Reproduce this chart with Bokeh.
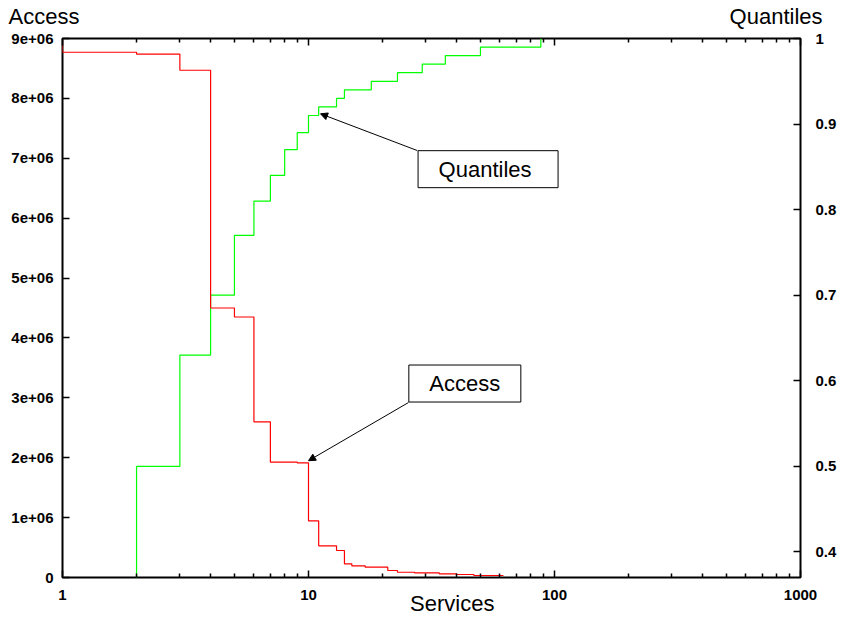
from bokeh.plotting import figure
from bokeh.layouts import column
from bokeh.models import (LogAxis, LinearAxis, Range1d, FixedTicker, Label,
                          Arrow, NormalHead)
from bokeh.embed import file_html
from bokeh.resources import INLINE

# ---------------- data ----------------
access_services = [1, 2, 3, 4, 5, 6, 7, 9, 10, 11, 13, 14, 15, 17, 21, 23,
                   27, 34, 40, 47, 62]
access_values = [9.0e6, 8.77e6, 8.74e6, 8.47e6, 4.50e6, 4.35e6, 2.60e6,
                 1.925e6, 1.915e6, 0.947e6, 0.529e6, 0.451e6, 0.229e6,
                 0.195e6, 0.172e6, 0.117e6, 0.088e6, 0.078e6, 0.062e6,
                 0.050e6, 0.033e6]

quantile_services = [1, 2, 3, 4, 5, 6, 7, 8, 9, 10, 11, 13, 14, 18, 23, 29,
                     36, 50, 88]
quantile_values = [0.30, 0.50, 0.63, 0.70, 0.77, 0.81, 0.84, 0.87, 0.89,
                   0.91, 0.92, 0.93, 0.94, 0.95, 0.96, 0.97, 0.98, 0.99, 1.00]

x_ticks = [1, 10, 100, 1000]
x_tick_labels = ["1", "10", "100", "1000"]
x_minor_ticks = [m * d for d in (1, 10, 100) for m in range(2, 10)]

access_ticks = [0.0, 1e6, 2e6, 3e6, 4e6, 5e6, 6e6, 7e6, 8e6, 9e6]
access_tick_labels = ["0", "1e+06", "2e+06", "3e+06", "4e+06", "5e+06",
                      "6e+06", "7e+06", "8e+06", "9e+06"]

quantile_ticks = [0.4, 0.5, 0.6, 0.7, 0.8, 0.9, 1.0]
quantile_tick_labels = ["0.4", "0.5", "0.6", "0.7", "0.8", "0.9", "1"]

x_title = "Services"
x_title_pos = 38.4          # where the x title is centred (data units)
y_title_left = "Access"
y_title_right = "Quantiles"

FONT = "Liberation Sans"
W = 844
HEAD_H = 30
MAIN_H = 621 - HEAD_H

# ---------------- header strip carrying the two y titles ----------------
head = figure(width=W, height=HEAD_H, x_range=Range1d(0, W),
              y_range=Range1d(0, HEAD_H), output_backend="svg",
              toolbar_location=None, x_axis_location=None,
              y_axis_location=None, min_border=0, min_border_left=0,
              min_border_right=0, min_border_top=0, min_border_bottom=0,
              frame_align=False)
head.grid.visible = False
head.outline_line_color = None
head.background_fill_color = "white"
head.border_fill_color = "white"
TITLE_MID = HEAD_H - 15.7      # vertical middle of the title text
head.add_layout(Label(x=8, y=TITLE_MID, text=y_title_left,
                      text_align="left", text_baseline="middle",
                      text_font=FONT, text_font_size="22px",
                      text_color="black"))
head.add_layout(Label(x=822, y=TITLE_MID, text=y_title_right,
                      text_align="right", text_baseline="middle",
                      text_font=FONT, text_font_size="22px",
                      text_color="black"))

# ---------------- main figure ----------------
p = figure(width=W, height=MAIN_H, x_axis_type="log",
           x_range=Range1d(1, 1000), y_range=Range1d(0, 9e6),
           output_backend="svg", toolbar_location=None,
           min_border_left=62, min_border_right=44,
           min_border_top=38 - HEAD_H, min_border_bottom=44,
           frame_align=False)
p.extra_y_ranges = {"q": Range1d(0.37, 1.0)}
p.grid.visible = False
p.outline_line_color = "black"
p.outline_line_width = 2
p.background_fill_color = "white"
p.border_fill_color = "white"


def style_axis(ax, standoff):
    ax.axis_line_color = None
    ax.major_tick_in = 7
    ax.major_tick_out = 0
    ax.minor_tick_in = 4
    ax.minor_tick_out = 0
    ax.major_tick_line_color = "black"
    ax.minor_tick_line_color = "black"
    ax.major_tick_line_width = 1.5
    ax.minor_tick_line_width = 1.5
    ax.major_label_standoff = standoff
    ax.major_label_text_font = FONT
    ax.major_label_text_font_size = "15px"
    ax.major_label_text_font_style = "bold"
    ax.major_label_text_color = "black"


# bottom x axis
xb = p.xaxis[0]
xb.ticker = FixedTicker(ticks=x_ticks, minor_ticks=x_minor_ticks)
xb.major_label_overrides = dict(zip(x_ticks, x_tick_labels))
style_axis(xb, 12)

# x title, placed under the tick labels
xlab = LogAxis(ticker=FixedTicker(ticks=[x_title_pos]))
xlab.major_label_overrides = {x_title_pos: x_title}
xlab.axis_line_color = None
xlab.major_tick_in = 0
xlab.major_tick_out = 0
xlab.minor_tick_in = 0
xlab.minor_tick_out = 0
xlab.major_label_standoff = -12
xlab.major_label_text_font = FONT
xlab.major_label_text_font_size = "22px"
xlab.major_label_text_color = "black"
p.add_layout(xlab, "below")

# mirrored ticks on the top border
xt = LogAxis(ticker=FixedTicker(ticks=x_ticks, minor_ticks=x_minor_ticks))
style_axis(xt, 0)
xt.major_label_overrides = {t: "" for t in x_ticks}
xt.major_label_text_color = None
p.add_layout(xt, "above")

# left y axis (Access)
yl = p.yaxis[0]
yl.ticker = FixedTicker(ticks=access_ticks)
yl.major_label_overrides = dict(zip(access_ticks, access_tick_labels))
style_axis(yl, 9)
yl.minor_tick_in = 0

# right y axis (Quantiles)
yr = LinearAxis(y_range_name="q", ticker=FixedTicker(ticks=quantile_ticks))
yr.major_label_overrides = dict(zip(quantile_ticks, quantile_tick_labels))
style_axis(yr, 15)
yr.minor_tick_in = 0
p.add_layout(yr, "right")

# ---------------- series ----------------
p.step(x=quantile_services, y=quantile_values, mode="after",
       y_range_name="q", line_color="#00ff00", line_width=1.2)
p.step(x=access_services, y=access_values, mode="before",
       line_color="#ff0000", line_width=1.2)

# ---------------- annotation boxes and arrows ----------------
p.add_layout(Arrow(end=NormalHead(size=7, fill_color="black",
                                  line_color="black"),
                   x_start=25.5, y_start=2.922e6, x_end=10.0, y_end=1.95e6,
                   line_color="black", line_width=1))
p.add_layout(Arrow(end=NormalHead(size=7, fill_color="black",
                                  line_color="black"),
                   x_start=27.7, y_start=0.869, x_end=11.19, y_end=0.912,
                   y_range_name="q", line_color="black", line_width=1))

p.rect(x=[43.2], y=[3.239e6], width=112, height=37, width_units="screen",
       height_units="screen", fill_color="white", line_color="black",
       line_width=1)
p.rect(x=[53.7], y=[6.818e6], width=140, height=37, width_units="screen",
       height_units="screen", fill_color="white", line_color="black",
       line_width=1)
p.add_layout(Label(x=43.2, y=3.239e6, text="Access", text_align="center",
                   text_baseline="middle", text_font=FONT,
                   text_font_size="22px", text_color="black"))
p.add_layout(Label(x=53.7, y=6.818e6, x_offset=-3, text="Quantiles",
                   text_align="center", text_baseline="middle",
                   text_font=FONT, text_font_size="22px", text_color="black"))

layout = column(head, p, spacing=0)
open("out.html", "w").write(file_html(layout, INLINE))
